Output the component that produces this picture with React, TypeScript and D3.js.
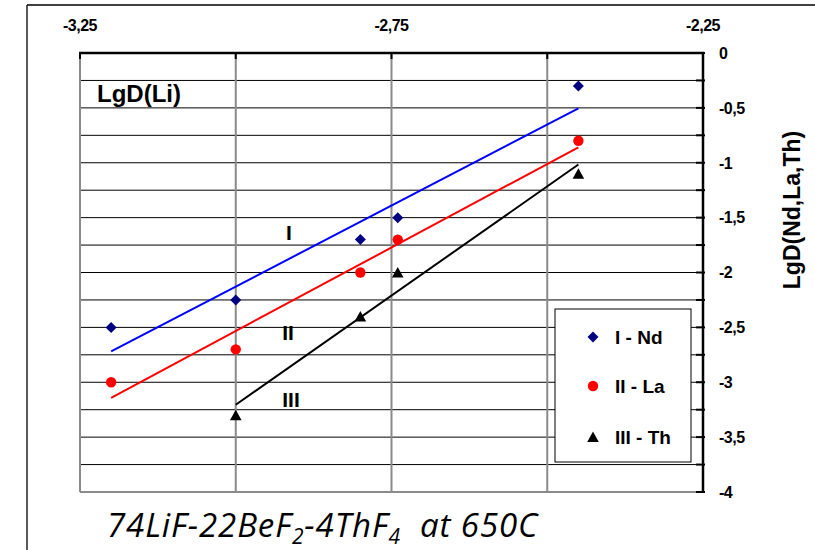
import React from "react";
import * as d3 from "d3";

// LgD(Li) values on the horizontal axis
const lgDLi = [-3.2, -3.0, -2.8, -2.74, -2.45];
// LgD of each element at the same points
const ndValues = [-2.5, -2.25, -1.7, -1.5, -0.3];
const laValues = [-3.0, -2.7, -2.0, -1.7, -0.8];
const thX = [-3.0, -2.8, -2.74, -2.45];
const thValues = [-3.3, -2.4, -2.0, -1.1];

const xTicks = [-3.25, -3.0, -2.75, -2.5, -2.25];
const xTickLabels = [-3.25, -2.75, -2.25];
const yTickLabels = [0, -0.5, -1, -1.5, -2, -2.5, -3, -3.5, -4];
const lineLabels = ["I", "II", "III"];
const legendLabels = ["I - Nd", "II - La", "III - Th"];

const W = 815;
const H = 550;
const fmt = (v: number) => String(v).replace(".", ",");

type Pt = [number, number];

// ordinary least-squares line over the x range of the series
function fitLine(xs: number[], ys: number[]): Pt[] {
  const mx = d3.mean(xs)!;
  const my = d3.mean(ys)!;
  let sxy = 0;
  let sxx = 0;
  xs.forEach((x, i) => {
    sxy += (x - mx) * (ys[i] - my);
    sxx += (x - mx) * (x - mx);
  });
  const b = sxy / sxx;
  const [x0, x1] = d3.extent(xs) as [number, number];
  return [
    [x0, my + b * (x0 - mx)],
    [x1, my + b * (x1 - mx)],
  ];
}

const diamond = (cx: number, cy: number, r: number) =>
  `M${cx},${cy - r}L${cx + r},${cy}L${cx},${cy + r}L${cx - r},${cy}Z`;
const triangle = (cx: number, cy: number) =>
  `M${cx},${cy - 5.5}L${cx + 5.8},${cy + 5}L${cx - 5.8},${cy + 5}Z`;

export default function App() {
  const x = d3.scaleLinear().domain([-3.25, -2.25]).range([80, 703]);
  const y = d3.scaleLinear().domain([0, -4]).range([53, 492]);
  const yGrid = d3.range(0, 17).map((i) => -i * 0.25);
  const line = d3
    .line<Pt>()
    .x((d) => x(d[0]))
    .y((d) => y(d[1]));

  const series = [
    { xs: lgDLi, ys: ndValues, color: "#0000FF" },
    { xs: lgDLi, ys: laValues, color: "#FF0000" },
    { xs: thX, ys: thValues, color: "#000000" },
  ];

  const bold = { fontFamily: "Arial, 'Liberation Sans', sans-serif", fontWeight: 700 };

  return (
    <div style={{ position: "absolute", left: 0, top: 0 }}>
      <svg width={W} height={H} style={{ display: "block", background: "#fff" }}>
        {/* outer frame */}
        <line x1={27} y1={5} x2={W} y2={5} stroke="#000" strokeWidth={1.3} />
        <line x1={27} y1={5} x2={27} y2={H} stroke="#000" strokeWidth={1.3} />

        {/* horizontal grid */}
        {yGrid.slice(1, -1).map((v) => (
          <line key={v} x1={x(-3.25)} x2={x(-2.25)} y1={y(v)} y2={y(v)} stroke="#000" strokeWidth={1} />
        ))}
        <line x1={x(-3.25)} x2={x(-2.25)} y1={y(-4)} y2={y(-4)} stroke="#8a8a8a" strokeWidth={2} />

        {/* vertical grid */}
        {xTicks.slice(0, -1).map((v) => (
          <line key={v} x1={x(v)} x2={x(v)} y1={y(0)} y2={y(-4)} stroke="#8a8a8a" strokeWidth={2} />
        ))}

        {/* top axis */}
        <line x1={x(-3.25) - 1} x2={x(-2.25) + 1} y1={y(0)} y2={y(0)} stroke="#000" strokeWidth={2.5} />
        {xTicks.map((v) => (
          <line key={v} x1={x(v)} x2={x(v)} y1={y(0)} y2={y(0) + 6} stroke="#000" strokeWidth={2} />
        ))}
        {xTickLabels.map((v) => (
          <text key={v} x={x(v)} y={31} textAnchor="middle" fontSize={16} style={bold} letterSpacing={-0.5}>
            {fmt(v)}
          </text>
        ))}

        {/* legend */}
        <rect x={555} y={309} width={136} height={153} fill="#fff" stroke="#000" strokeWidth={1} />

        {/* right axis */}
        <line x1={x(-2.25)} x2={x(-2.25)} y1={y(0) - 1} y2={y(-4) + 1} stroke="#000" strokeWidth={2.5} />
        {yGrid.map((v) => (
          <line key={v} x1={x(-2.25) - 7} x2={x(-2.25) + 2} y1={y(v)} y2={y(v)} stroke="#000" strokeWidth={2} />
        ))}
        {yTickLabels.map((v) => (
          <text key={v} x={719} y={y(v)} dy="0.36em" fontSize={16} style={bold} letterSpacing={-0.5}>
            {fmt(v)}
          </text>
        ))}
        <text
          transform={`translate(800,210) rotate(-90)`}
          textAnchor="middle"
          fontSize={23}
          style={bold}
        >
          LgD(Nd,La,Th)
        </text>

        <text x={97} y={102} fontSize={24} style={bold}>
          LgD(Li)
        </text>

        {/* regression lines */}
        {series.map((s) => (
          <path key={s.color} d={line(fitLine(s.xs, s.ys))!} fill="none" stroke={s.color} strokeWidth={2} />
        ))}

        {/* line labels */}
        <text x={289} y={232} dy="0.36em" textAnchor="middle" fontSize={21} style={bold}>
          {lineLabels[0]}
        </text>
        <text x={288} y={332} dy="0.36em" textAnchor="middle" fontSize={21} style={bold}>
          {lineLabels[1]}
        </text>
        <text x={291} y={399} dy="0.36em" textAnchor="middle" fontSize={21} style={bold}>
          {lineLabels[2]}
        </text>

        {/* data markers */}
        {lgDLi.map((v, i) => (
          <path key={`nd${i}`} d={diamond(x(v), y(ndValues[i]), 5.5)} fill="#000080" />
        ))}
        {lgDLi.map((v, i) => (
          <circle key={`la${i}`} cx={x(v)} cy={y(laValues[i])} r={5.2} fill="#FF0000" />
        ))}
        {thX.map((v, i) => (
          <path key={`th${i}`} d={triangle(x(v), y(thValues[i]))} fill="#000" />
        ))}

        {/* legend entries */}
        <path d={diamond(593, 337, 5.5)} fill="#000080" />
        <circle cx={593} cy={386} r={5.2} fill="#FF0000" />
        <path d={triangle(593, 437)} fill="#000" />
        {legendLabels.map((t, i) => (
          <text key={t} x={615} y={[337, 386, 437][i]} dy="0.36em" fontSize={19} style={bold}>
            {t}
          </text>
        ))}

        {/* caption */}
        <text
          x={107}
          y={537}
          fontSize={33}
          fontStyle="italic"
          fontFamily="'Open Sans', sans-serif"
          letterSpacing={0.9}
          style={{ whiteSpace: "pre" }}
        >
          74LiF-22BeF<tspan fontSize={21} dy={7}>2</tspan>
          <tspan dy={-7}>-4ThF</tspan>
          <tspan fontSize={21} dy={7}>4</tspan>
          <tspan dy={-7}>{"  at 650C"}</tspan>
        </text>
      </svg>
    </div>
  );
}
